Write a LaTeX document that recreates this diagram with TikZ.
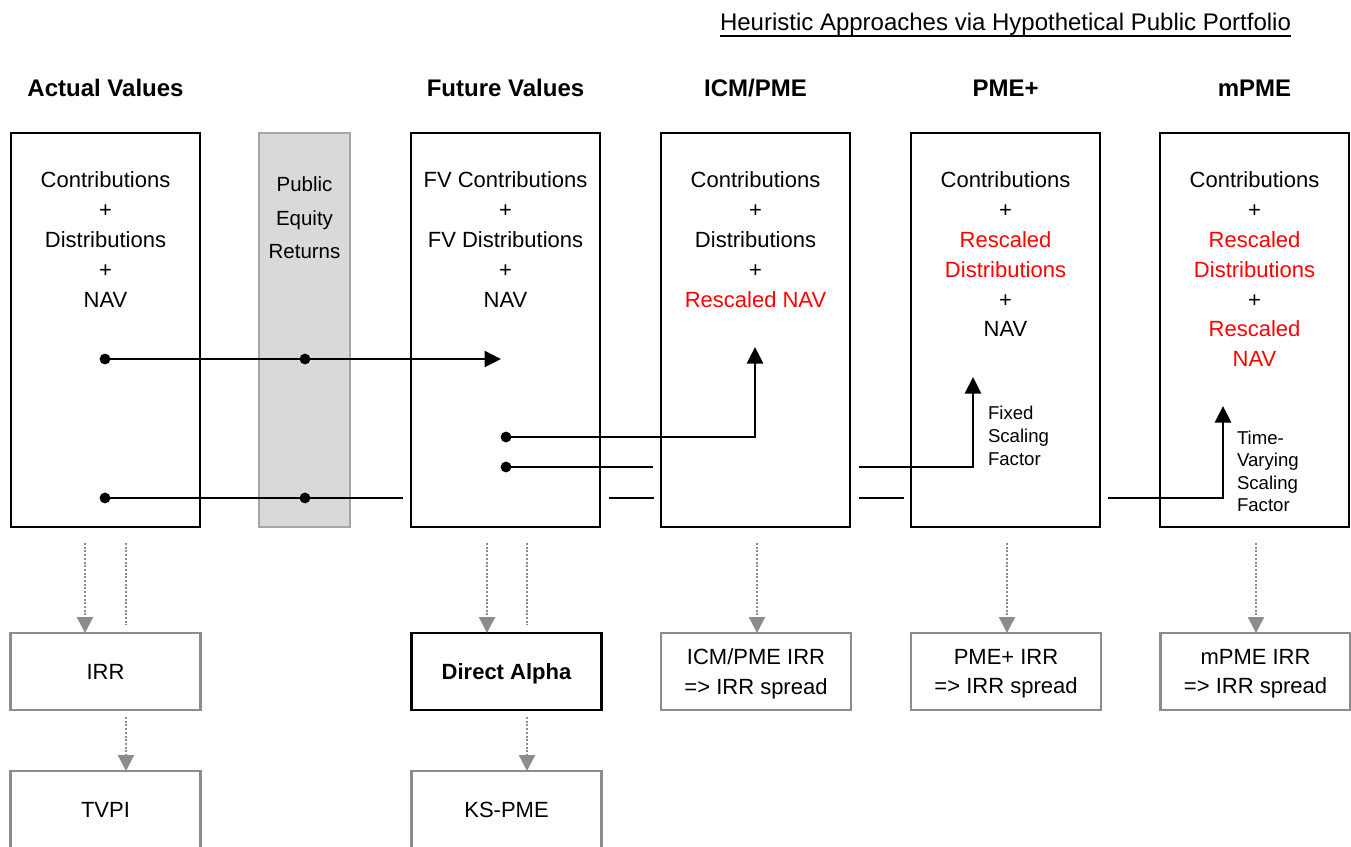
\documentclass[tikz,border=0pt]{standalone}
\usepackage{fontspec}
\setmainfont{Liberation Sans}
\usetikzlibrary{arrows.meta}

\definecolor{peGray}{HTML}{D9D9D9}
\definecolor{peEdge}{HTML}{A6A6A6}
\definecolor{resGray}{HTML}{8C8C8C}
\definecolor{flowRed}{HTML}{FF0000}

\newcommand\fbody{\fontsize{22bp}{29.8bp}\selectfont}
\newcommand\fhead{\fontsize{24bp}{28bp}\selectfont}
\newcommand\fpub{\fontsize{20.5bp}{33.5bp}\selectfont}
\newcommand\fsmall{\fontsize{18.6bp}{23.2bp}\selectfont}
\newcommand\rd[1]{{\color{flowRed}#1}}

\tikzset{
  every node/.style={inner sep=0pt, outer sep=0pt},
  bigbox/.style={draw=black, line width=2.7bp, fill=white,
    minimum width=189bp, minimum height=394bp},
  pebox/.style={draw=peEdge, line width=2.5bp, fill=peGray,
    minimum width=91bp, minimum height=394bp},
  resbox/.style={draw=resGray, line width=2.6bp, fill=white,
    minimum width=190bp, minimum height=77bp, font=\fbody, align=center,
    text depth=0pt},
  colhead/.style={font=\fhead\bfseries, anchor=base},
  btext/.style={font=\fbody, align=center, anchor=north},
  sidelabel/.style={font=\fsmall, align=left, anchor=north west},
  dot/.style={circle, fill=black, minimum size=10.8bp},
  flow/.style={draw=black, line width=2.6bp},
  flowarrow/.style={flow, -{Triangle[length=16.5bp,width=16bp]}},
  dotline/.style={draw=resGray, line width=2.2bp, dash pattern=on 2bp off 1.7bp},
  dotarrow/.style={dotline, -{Triangle[length=16bp,width=16bp]}},
}

\begin{document}
\begin{tikzpicture}[x=1bp, y=-1bp]
\useasboundingbox (0,0) rectangle (1351,846);
\fill[white] (0,0) rectangle (1351,846);
\clip (0,0) rectangle (1351,846);

% heading over the three heuristic approaches
\node[font=\fhead, anchor=base] (ttl) at (1005.5,30.6)
  {Heuristic Approaches via Hypothetical Public Portfolio};
\draw[line width=1.8bp] ([yshift=-5.5bp]ttl.base west) -- ([yshift=-5.5bp]ttl.base east);

% column headings
\node[colhead] (hAct) at (105.5,96.6) {Actual Values};
\node[colhead] (hFut) at (505.5,96.6) {Future Values};
\node[colhead] (hIcm) at (755.5,96.6) {ICM/PME};
\node[colhead] (hPmp) at (1005.5,96.6) {PME+};
\node[colhead] (hMpm) at (1254.5,96.6) {mPME};

% main columns
\node[bigbox] (act) at (105.5,330) {};
\node[pebox]  (pub) at (304.5,330) {};
\node[bigbox] (fut) at (505.5,330) {};
\node[bigbox] (icm) at (755.5,330) {};
\node[bigbox] (pmp) at (1005.5,330) {};
\node[bigbox] (mpm) at (1254.5,330) {};

\node[btext] (tAct) at (105.5,172) {Contributions\\+\\Distributions\\+\\NAV};
\node[font=\fpub, align=center, anchor=north] (tPub) at (304.5,177) {Public\\Equity\\Returns};
\node[btext] (tFut) at (505.5,172) {FV Contributions\\+\\FV Distributions\\+\\NAV};
\node[btext] (tIcm) at (755.5,172) {Contributions\\+\\Distributions\\+\\\rd{Rescaled NAV}};
\node[btext] (tPmp) at (1005.5,172) {Contributions\\+\\\rd{Rescaled}\\\rd{Distributions}\\+\\NAV};
\node[btext] (tMpm) at (1254.5,172) {Contributions\\+\\\rd{Rescaled}\\\rd{Distributions}\\+\\\rd{Rescaled}\\\rd{NAV}};

% compounding with public equity returns
\node[dot] (a1) at (105,359) {};
\node[dot] (p1) at (305,359) {};
\coordinate (f1) at (501,359);
\draw[flowarrow] (a1.center) -- (p1.center) -- (f1);

% future values feeding ICM/PME
\node[dot] (f2) at (506,437) {};
\coordinate (i2) at (755,347);
\draw[flowarrow] (f2.center) -| (i2);

% future values feeding PME+
\node[dot] (f3) at (506,467) {};
\coordinate (g3a) at (653,467);
\coordinate (g3b) at (859,467);
\coordinate (m3) at (973,377);
\draw[flow] (f3.center) -- (g3a);
\draw[flowarrow] (g3b) -| (m3);
\node[sidelabel] (lFix) at (988,406) {Fixed\\Scaling\\Factor};

% actual values feeding mPME
\node[dot] (a4) at (105,498) {};
\node[dot] (p4) at (305,498) {};
\coordinate (g4a) at (403,498);
\coordinate (g4b) at (609,498);
\coordinate (g4c) at (654,498);
\coordinate (g4d) at (859,498);
\coordinate (g4e) at (904,498);
\coordinate (g4f) at (1108,498);
\coordinate (x4) at (1223,406);
\draw[flow] (a4.center) -- (p4.center) -- (g4a);
\draw[flow] (g4b) -- (g4c);
\draw[flow] (g4d) -- (g4e);
\draw[flowarrow] (g4f) -| (x4);
\node[sidelabel, font=\fontsize{18.6bp}{22.4bp}\selectfont] (lTime) at (1237,431) {Time-\\Varying\\Scaling\\Factor};

% resulting measures
\node[resbox] (irr) at (105.5,671.5) {IRR};
\node[resbox, draw=black, font=\fbody\bfseries] (da) at (506.5,671.5) {Direct Alpha};
\node[resbox] (icmIrr) at (756,671.5) {ICM/PME IRR\\=> IRR spread};
\node[resbox] (pmpIrr) at (1006,671.5) {PME+ IRR\\=> IRR spread};
\node[resbox] (mpmIrr) at (1255.5,671.5) {mPME IRR\\=> IRR spread};
\node[resbox, minimum height=78bp] (tvpi) at (105.5,810) {TVPI};
\node[resbox, minimum height=78bp] (ks) at (506.5,810) {KS-PME};

% dotted derivations
\coordinate (dA1) at (85,543);
\coordinate (dA2) at (126,543);
\coordinate (dA2e) at (126,625);
\coordinate (dA3) at (126,717);
\draw[dotarrow] (dA1) -- (dA1 |- irr.north);
\draw[dotline] (dA2) -- (dA2e);
\draw[dotarrow] (dA3) -- (dA3 |- tvpi.north);

\coordinate (dF1) at (487,543);
\coordinate (dF2) at (527,543);
\coordinate (dF2e) at (527,625);
\coordinate (dF3) at (527,717);
\draw[dotarrow] (dF1) -- (dF1 |- da.north);
\draw[dotline] (dF2) -- (dF2e);
\draw[dotarrow] (dF3) -- (dF3 |- ks.north);

\coordinate (dI) at (757,543);
\coordinate (dP) at (1007,543);
\coordinate (dM) at (1256,543);
\draw[dotarrow] (dI) -- (dI |- icmIrr.north);
\draw[dotarrow] (dP) -- (dP |- pmpIrr.north);
\draw[dotarrow] (dM) -- (dM |- mpmIrr.north);
\end{tikzpicture}
\end{document}
